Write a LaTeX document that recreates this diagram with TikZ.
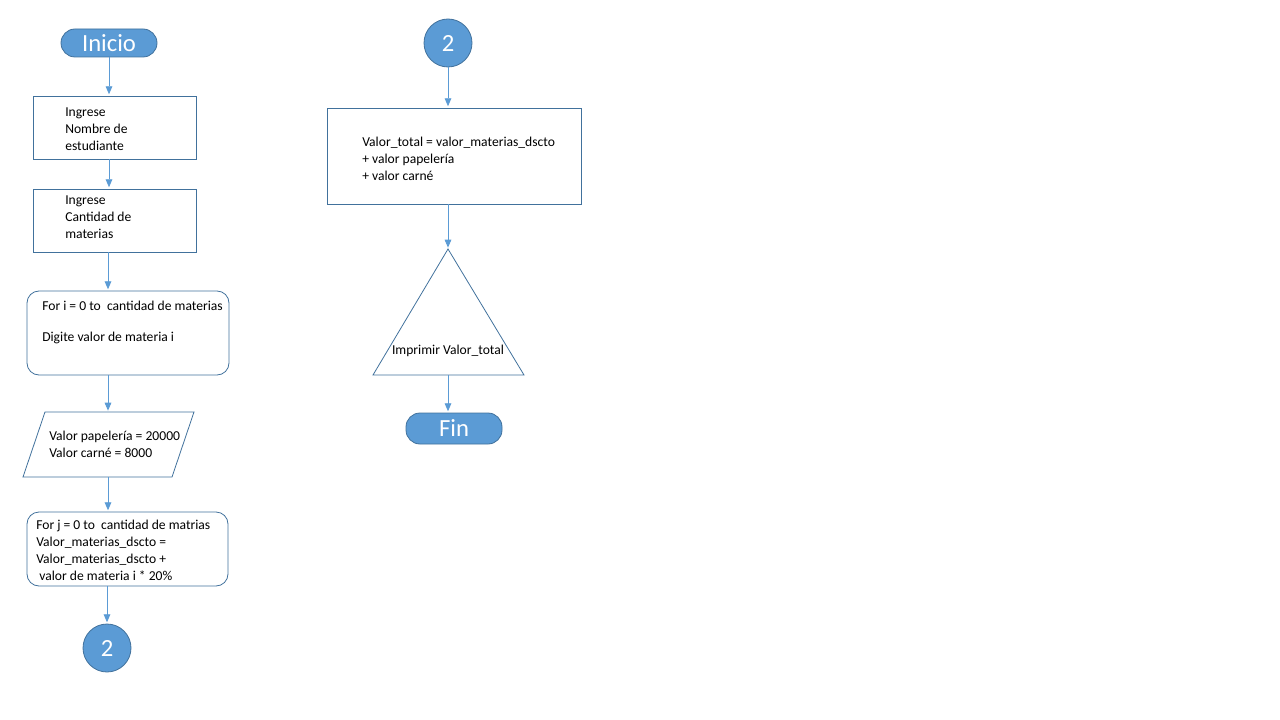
\documentclass[tikz,border=0pt]{standalone}
\usepackage{fontspec}
\setmainfont{Carlito}
\usetikzlibrary{arrows.meta}
\definecolor{accblue}{HTML}{5B9BD5}
\definecolor{darkblue}{HTML}{41719C}
\tikzset{
  conn/.style={draw=accblue, line width=0.7pt, -{Triangle[length=6pt,width=5pt]}, shorten >=1pt},
  pill/.style={draw=darkblue, fill=accblue, line width=0.6pt, rounded corners=10.5pt, minimum width=72pt, inner sep=0pt, text=white, font=\fontsize{18.5}{20}\selectfont},
  proc/.style={draw=darkblue, line width=0.6pt, inner sep=0pt},
  conncirc/.style={circle, draw=darkblue, fill=accblue, line width=0.6pt, minimum size=36pt, inner sep=0pt, text=white, font=\fontsize{18.5}{20}\selectfont},
  txt/.style={anchor=west, align=left, inner sep=0pt, font=\fontsize{10.2}{12.75}\selectfont},
  shapeline/.style={draw=darkblue, line width=0.6pt}
}
\begin{document}
\begin{tikzpicture}[x=0.75pt, y=-0.75pt]
\useasboundingbox (0,0) rectangle (1280,720);
% left column
\node[pill, minimum height=21pt] (inicio) at (109,43) {Inicio};
\node[proc, minimum width=122.25pt, minimum height=47.25pt] (b1) at (114.5,127.5) {};
\node[txt] (t1) at (65,129) {Ingrese\\Nombre de\\estudiante};
\node[proc, minimum width=122.25pt, minimum height=47.25pt] (b2) at (114.5,220.5) {};
\node[txt] (t2) at (65,217.5) {Ingrese\\Cantidad de\\materias};
\node[proc, rounded corners=9pt, minimum width=151.5pt, minimum height=63pt] (b3) at (128,333) {};
\node[txt] (t3a) at (42,306) {For i = 0 to\ \ cantidad de materias};
\node[txt] (t3b) at (42,338) {Digite valor de materia i};
\draw[shapeline] (45,412) -- (194,412) -- (172,477) -- (23,477) -- cycle;
\coordinate (pTop) at (108,412);
\coordinate (pBot) at (108,477);
\node[txt] (t4) at (49,444) {Valor papelería = 20000\\Valor carné = 8000};
\node[proc, rounded corners=9pt, minimum width=150.75pt, minimum height=55.5pt] (b4) at (127.5,549) {};
\node[txt] (t5) at (36,550) {For j = 0 to\ \ cantidad de matrias\\Valor\_materias\_dscto =\\Valor\_materias\_dscto +\\\ valor de materia i * 20\%};
\node[conncirc] (c1) at (107,648) {2};
\draw[conn] (inicio.south -| 109,0) -- (b1.north -| 109,0);
\draw[conn] (b1.south -| 109,0) -- (b2.north -| 109,0);
\draw[conn] (b2.south -| 108,0) -- (b3.north -| 108,0);
\draw[conn] (b3.south -| 108,0) -- (pTop);
\draw[conn] (pBot) -- (b4.north -| 108,0);
\draw[conn] (b4.south -| 107,0) -- (c1.north);
% right column
\node[conncirc] (c2) at (448,43) {2};
\node[proc, minimum width=190.5pt, minimum height=72pt] (b5) at (454,156) {};
\node[txt] (t6) at (362,159) {Valor\_total = valor\_materias\_dscto\\+ valor papelería\\+ valor carné};
\draw[shapeline] (448,249) -- (524,375) -- (373,375) -- cycle;
\coordinate (triTop) at (448,249);
\coordinate (triBot) at (448,375);
\node[txt, anchor=center] (t7) at (448,351) {Imprimir Valor\_total};
\node[pill, minimum height=23.25pt] (fin) at (454,428.5) {Fin};
\draw[conn] (c2.south) -- (b5.north -| 448,0);
\draw[conn] (b5.south -| 448,0) -- (triTop);
\draw[conn] (triBot) -- (fin.north -| 448,0);
\end{tikzpicture}
\end{document}
